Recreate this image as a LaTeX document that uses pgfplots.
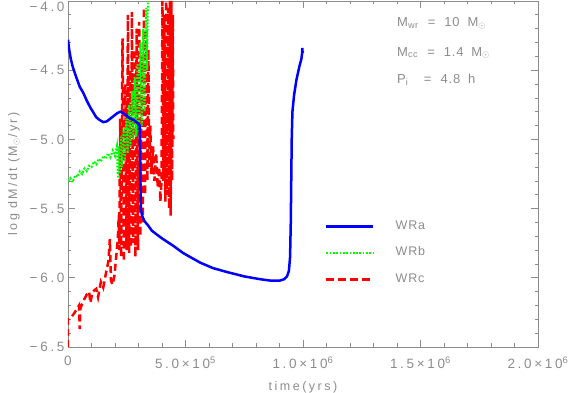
\documentclass[border=0pt]{standalone}
\usepackage{pgfplots}
\pgfplotsset{compat=1.18}
\usepackage{fontspec}
\setmainfont{Liberation Sans}[LetterSpace=20]
\newfontfamily\plainfont{Liberation Sans}[LetterSpace=6]
\definecolor{idlgray}{HTML}{8C8C8C}
\definecolor{wra}{RGB}{0,0,255}
\definecolor{wrb}{RGB}{0,255,0}
\definecolor{wrc}{RGB}{255,0,0}

\begin{document}
\begin{tikzpicture}
\useasboundingbox (-68pt,-46pt) rectangle (500pt,347pt);
\begin{axis}[scale only axis, width=470pt, height=346pt,
  xmin=0, xmax=2000000, ymin=-6.5, ymax=-4.0,
  scaled x ticks=false,
  xtick={0,500000,1000000,1500000,2000000},
  xticklabels={0,5.0×10\textsuperscript{5},1.0×10\textsuperscript{6},1.5×10\textsuperscript{6},2.0×10\textsuperscript{6}},
  ytick={-6.5,-6,-5.5,-5,-4.5,-4},
  yticklabels={−6.5,−6.0,−5.5,−5.0,−4.5,\raisebox{-11pt}[0pt][0pt]{−4.0}},
  minor x tick num=4, minor y tick num=4,
  tick align=inside, major tick length=7pt, minor tick length=3.5pt,
  axis line style={idlgray, line width=0.7pt},
  every tick/.style={idlgray, line width=0.7pt},
  font=\fontsize{12.5}{15}\selectfont,
  tick label style={idlgray, font=\fontsize{13.5}{16}\selectfont},
  xticklabel style={yshift=-6pt},
  label style={idlgray},
  xlabel={time(yrs)},
  ylabel={log\hspace{0.4em}dM/dt\hspace{0.4em}(M\textsubscript{$\odot$}/yr)},
  xlabel style={yshift=-6pt},
  ylabel style={yshift=3pt},
  legend style={draw=none, fill=none, font=\plainfont\fontsize{12.5}{15}\selectfont\color{idlgray},
    at={(axis cs:1081000,-5.57)}, anchor=north west, row sep=14.5pt,
    nodes={inner sep=0pt, text height=9pt, text depth=3pt},
    /tikz/every odd column/.append style={column sep=21pt}},
  legend image code/.code={\draw[#1] (0pt,0pt) -- (47pt,0pt);},
  legend cell align=left,
]
\addlegendimage{wra, line width=2.5pt}
\addlegendentry{WRa}
\addlegendimage{wrb, line width=2pt, dash pattern=on 1.7pt off 1.6pt}
\addlegendentry{WRb}
\addlegendimage{wrc, line width=2.5pt, dash pattern=on 8pt off 4pt}
\addlegendentry{WRc}

% WRc
\addplot[wrc, line width=2.5pt, dash pattern=on 7pt off 4pt, forget plot] coordinates {
(0,-6.50)(0,-6.30)(12000,-6.29)(25000,-6.26)(40000,-6.22)(47000,-6.20)(50000,-6.37)
(53000,-6.22)(65000,-6.17)(80000,-6.12)(90000,-6.10)(95000,-6.18)(105000,-6.10)
(120000,-6.08)(128000,-6.14)(140000,-6.03)(150000,-6.07)(160000,-5.98)(172000,-5.88)
(178000,-5.72)(183000,-6.02)(190000,-6.05)(198000,-5.98)(205000,-5.85)(212000,-5.72)
(216000,-5.55)(218000,-5.80)(222000,-4.85)(226000,-5.85)(232000,-4.27)(238000,-5.88)
(244000,-4.60)(249000,-5.80)(255000,-4.10)(260000,-5.82)(265000,-4.50)(268000,-5.78)
(272000,-4.08)(277000,-5.75)(282000,-4.35)(287000,-5.85)(292000,-4.20)(298000,-5.80)
(303000,-4.15)(308000,-5.70)(313000,-4.40)(318000,-5.60)(323000,-4.05)(328000,-5.40)
(333000,-4.20)(338000,-5.30)(342000,-4.35)(346000,-5.20)(350000,-4.90)(355000,-5.25)
(362000,-5.05)(368000,-5.30)(375000,-5.10)(382000,-5.35)(388000,-5.20)(393000,-5.45)
(398000,-5.30)(402000,-4.00)(406000,-5.30)(410000,-4.10)(414000,-5.45)(418000,-4.00)
(422000,-5.40)(426000,-4.05)(430000,-5.50)(434000,-4.00)(437000,-5.55)(440000,-4.00)
(443000,-5.30)(446000,-4.10)(448000,-5.00)
};
% WRb
\addplot[wrb, line width=2pt, dash pattern=on 1.7pt off 1.6pt, forget plot] coordinates {
(0,-5.30)(10000,-5.28)(20000,-5.31)(30000,-5.26)(40000,-5.27)(50000,-5.23)(60000,-5.25)
(70000,-5.21)(80000,-5.23)(90000,-5.19)(100000,-5.20)(110000,-5.16)(120000,-5.18)
(130000,-5.14)(140000,-5.16)(150000,-5.12)(160000,-5.14)(170000,-5.10)(180000,-5.13)
(190000,-5.08)(200000,-5.12)(208000,-5.05)(212000,-5.28)(216000,-5.05)(220000,-5.25)
(225000,-4.98)(230000,-5.20)(236000,-4.92)(242000,-5.15)(248000,-4.85)(254000,-5.10)
(260000,-4.75)(266000,-5.05)(272000,-4.65)(278000,-5.00)(284000,-4.55)(290000,-4.98)
(296000,-4.45)(302000,-4.95)(308000,-4.30)(314000,-4.90)(320000,-4.20)(326000,-4.80)
(332000,-4.05)(336000,-4.50)(340000,-4.00)
};
% WRa
\addplot[wra, line width=2.5pt, forget plot] coordinates {
(0,-4.28)(5000,-4.35)(12000,-4.42)(21000,-4.48)(35000,-4.55)(50000,-4.62)(64000,-4.66)
(80000,-4.72)(95000,-4.77)(106000,-4.80)(120000,-4.84)(135000,-4.86)(150000,-4.875)
(165000,-4.87)(180000,-4.85)(195000,-4.83)(210000,-4.81)(222000,-4.80)(235000,-4.81)
(250000,-4.83)(265000,-4.85)(280000,-4.86)(295000,-4.88)(305000,-4.90)(307000,-5.10)
(308000,-5.30)(310000,-5.50)(315000,-5.55)(325000,-5.59)(340000,-5.62)(357000,-5.66)
(380000,-5.69)(404000,-5.72)(449000,-5.77)(489000,-5.82)(520000,-5.85)(562000,-5.89)
(617000,-5.93)(680000,-5.96)(750000,-5.99)(817000,-6.01)(860000,-6.02)(902000,-6.02)
(920000,-6.01)(932000,-5.99)(940000,-5.95)(945000,-5.85)(948000,-5.60)(950000,-5.30)
(952000,-5.00)(955000,-4.80)(962000,-4.68)(972000,-4.57)(985000,-4.47)(993000,-4.42)
(996000,-4.38)(997000,-4.34)(998000,-4.37)(1000000,-4.36)
};

\node[anchor=west, idlgray, inner sep=0pt, font=\plainfont\fontsize{13}{15}\selectfont] at (axis cs:1400000,-4.16)
  {M\textsubscript{wr}\hspace{0.7em}=\hspace{0.7em}10\hspace{0.6em}M\textsubscript{$\odot$}};
\node[anchor=west, idlgray, inner sep=0pt, font=\plainfont\fontsize{13}{15}\selectfont] at (axis cs:1400000,-4.376)
  {M\textsubscript{cc}\hspace{0.7em}=\hspace{0.7em}1.4\hspace{0.6em}M\textsubscript{$\odot$}};
\node[anchor=west, idlgray, inner sep=0pt, font=\plainfont\fontsize{13}{15}\selectfont] at (axis cs:1400000,-4.57)
  {P\textsubscript{i}\hspace{1.2em}=\hspace{0.7em}4.8\hspace{0.6em}h};
\end{axis}
\end{tikzpicture}
\end{document}
